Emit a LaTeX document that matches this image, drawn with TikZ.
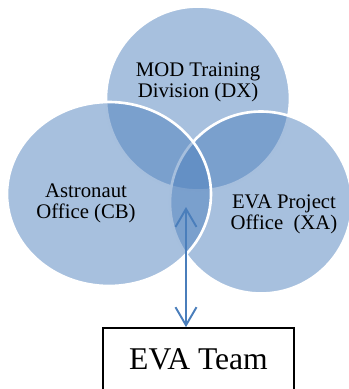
\documentclass[tikz,border=0pt]{standalone}
\usepackage{fontspec}
\setmainfont{Liberation Serif}
\usetikzlibrary{arrows.meta}
\definecolor{vennblue}{RGB}{79,129,189}
\definecolor{linkblue}{RGB}{74,126,187}

\begin{document}
\begin{tikzpicture}[every node/.style={font=\fontsize{11.8}{12}\selectfont, align=center},
  venn/.style={fill=vennblue, fill opacity=0.5, draw=white, draw opacity=1, line width=1.5pt}]
  \useasboundingbox (0,0) rectangle (6.98,7.78);
  \clip (0,0) rectangle (6.98,7.78);
  % the three offices, back to front
  \path[venn] (3.96,5.81) circle (1.84);
  \path[venn] (5.22,3.73) circle (1.82);
  \path[venn] (2.18,3.90) ellipse (2.04 and 1.84);
  \node (dx) at (3.96,6.14) {MOD Training\\Division (DX)};
  \node (cb) at (1.72,3.72) {Astronaut\\Office (CB)};
  \node (xa) at (5.68,3.50) {EVA Project\\Office\ \ (XA)};
  % team box, runs off the bottom edge
  \node[draw, line width=1pt, minimum width=3.82cm, minimum height=1.24cm, font=\fontsize{18}{20}\selectfont] (team) at (3.97,0.60) {EVA Team};
  \coordinate (core) at (3.72,3.64);
  \draw[{Straight Barb[length=0.36cm, width=0.42cm]}-{Straight Barb[length=0.36cm, width=0.42cm]}, linkblue, line width=1.1pt] (core) -- (core |- team.north);
\end{tikzpicture}
\end{document}
